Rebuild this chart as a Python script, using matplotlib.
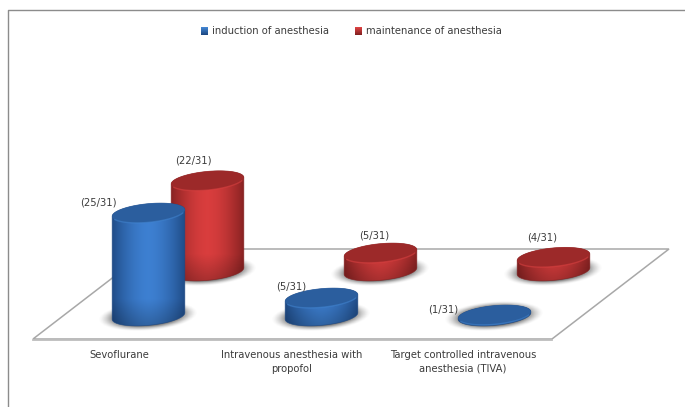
import numpy as np
import matplotlib
matplotlib.use("Agg")
import matplotlib.pyplot as plt
from matplotlib.patches import Polygon

plt.rcParams['font.family'] = ['DejaVu Sans']

categories = ["Sevoflurane", "Intravenous anesthesia with\npropofol",
              "Target controlled intravenous\nanesthesia (TIVA)"]
series_names = ["induction of anesthesia", "maintenance of anesthesia"]
induction = [25, 5, 1]
maintenance = [22, 5, 4]
total_patients = 31

# Oblique projection of (category, series, value) onto the canvas
ORIGIN_X, ORIGIN_Y = 148.5, 316.0
CAT_STEP = 173.0
SERIES_DX, SERIES_DY = 59.0, -45.0
UNIT_H = 4.25
VALUE_FLOOR = 0.76
RX, RY, TILT = 36.5, 9.3, np.radians(-5.5)
TEXT_SIZE = 7.2
TEXT_COLOR = "#3c3c3c"

SERIES_STYLE = [
    dict(mid=(0.24, 0.50, 0.82), edge=(0.12, 0.29, 0.52), top=(0.17, 0.37, 0.62),
         rim=(0.26, 0.52, 0.82)),
    dict(mid=(0.85, 0.24, 0.24), edge=(0.52, 0.13, 0.13), top=(0.61, 0.16, 0.16),
         rim=(0.86, 0.26, 0.26)),
]
# Label nudges relative to each cylinder's top centre
LABEL_OFFSETS = [[(-50, -10), (-30, -11), (-51, -5)],
                 [(-14, -20), (-6, -17), (-11, -20)]]

fig = plt.figure(figsize=(6.85, 4.07), dpi=100, facecolor="white")
ax = fig.add_axes([0, 0, 1, 1])
ax.set_axis_off()


def project(cat, ser, value):
    x = ORIGIN_X + CAT_STEP * cat + SERIES_DX * ser
    y = ORIGIN_Y + SERIES_DY * ser - UNIT_H * max(value - VALUE_FLOOR, 0)
    return x, y


def ellipse_pts(cx, cy, t, a=RX, b=RY):
    x = cx + a * np.cos(t) * np.cos(TILT) - b * np.sin(t) * np.sin(TILT)
    y = cy + a * np.cos(t) * np.sin(TILT) + b * np.sin(t) * np.cos(TILT)
    return np.column_stack([x, y])


def draw_shadow(cx, cy):
    a, b = 50.0, 15.0
    xs = np.linspace(cx - a, cx + a, 120)
    ys = np.linspace(cy - b, cy + b, 50)
    X, Y = np.meshgrid(xs, ys)
    r = np.sqrt(((X - cx) / a) ** 2 + ((Y - cy + 0.07 * (X - cx)) / b) ** 2)
    img = np.zeros(X.shape + (4,))
    img[..., :3] = 0.30
    img[..., 3] = 0.85 * np.clip((1 - r) / 0.36, 0, 1) ** 1.5
    ax.imshow(img, extent=[cx - a, cx + a, cy + b, cy - b], aspect="auto",
              interpolation="bilinear", zorder=2)


def draw_cylinder(cx, y_base, y_top, style, z):
    t = np.linspace(0, np.pi, 80)
    outline = np.vstack([ellipse_pts(cx, y_base, t),
                         ellipse_pts(cx, y_top, t + np.pi)])
    side = Polygon(outline, closed=True, facecolor="none", edgecolor="none", zorder=z)
    ax.add_patch(side)
    x0, x1 = cx - RX - 1, cx + RX + 1
    y0, y1 = y_top - RY - 6, y_base + RY + 6
    xs = np.linspace(-1, 1, 120)
    ys = np.linspace(y0, y1, 200)
    X, Y = np.meshgrid(xs, ys)
    mix = np.abs(X) ** 1.7
    dark_low = 0.22 * np.clip(1 - (y_base + RY - Y) / 26.0, 0, 1)
    img = np.zeros(X.shape + (3,))
    for c in range(3):
        img[..., c] = (style["mid"][c] * (1 - mix) + style["edge"][c] * mix) * (1 - dark_low)
    im = ax.imshow(img, extent=[x0, x1, y1, y0], aspect="auto",
                   interpolation="bilinear", zorder=z)
    im.set_clip_path(side)
    # Thin stroke smooths the clipped silhouette
    ax.add_patch(Polygon(outline, closed=True, facecolor="none", edgecolor=style["edge"],
                         lw=0.5, alpha=0.8, zorder=z + 0.05))

    tt = np.linspace(0, 2 * np.pi, 160)
    ax.add_patch(Polygon(ellipse_pts(cx, y_top, tt), closed=True,
                         facecolor=style["top"], edgecolor="none", zorder=z + 0.1))
    ax.plot(*ellipse_pts(cx, y_top, np.linspace(0.35, np.pi - 0.35, 60)).T,
            color=style["rim"], lw=1.0, alpha=0.55, zorder=z + 0.2,
            solid_capstyle="round")


# Chart frame, open on the right and bottom
ax.plot([8, 8, 685], [407, 10, 10], color="#8c8c8c", lw=1.0, zorder=1)

# Floor of the 3-D plot
ax.add_patch(Polygon([(33, 339), (552, 339), (669, 249), (150, 249)], closed=True,
                     facecolor="white", edgecolor="#a8a8a8", lw=1.1, zorder=1))
ax.plot([33, 552], [339.6, 339.6], color="#bdbdbd", lw=1.3, zorder=1)

# Back row first so the front row overlaps it
for ser, values in reversed(list(enumerate([induction, maintenance]))):
    style = SERIES_STYLE[ser]
    for cat, v in enumerate(values):
        cx, y_base = project(cat, ser, 0)
        draw_shadow(cx, y_base)
    for cat, v in enumerate(values):
        cx, y_base = project(cat, ser, 0)
        _, y_top = project(cat, ser, v)
        draw_cylinder(cx, y_base, y_top, style, z=3 + (1 - ser) * 2)
        dx, dy = LABEL_OFFSETS[ser][cat]
        ax.text(cx + dx, y_top + dy, f"({v}/{total_patients})", ha="center", va="center",
                fontsize=TEXT_SIZE, color=TEXT_COLOR, zorder=8)

# Category labels under the floor
for label, xc in zip(categories, [119, 292, 463]):
    ax.text(xc, 350, label, ha="center", va="top", fontsize=TEXT_SIZE, color=TEXT_COLOR,
            linespacing=1.45, zorder=8)

# Legend keys with a small vertical sheen
for name, style, xk in zip(series_names, SERIES_STYLE, [201, 355]):
    grad = np.linspace(0, 1, 8)[:, None, None]
    key = np.array(style["rim"])[None, None, :] * (1 - grad) + np.array(style["edge"])[None, None, :] * grad
    ax.imshow(np.clip(key, 0, 1), extent=[xk, xk + 7, 35, 27], aspect="auto",
              interpolation="bilinear", zorder=8)
    ax.text(xk + 11, 31, name, ha="left", va="center", fontsize=TEXT_SIZE, color=TEXT_COLOR, zorder=8)

ax.set_xlim(0, 685)
ax.set_ylim(407, 0)
fig.savefig("out.png", dpi=100, facecolor="white")
